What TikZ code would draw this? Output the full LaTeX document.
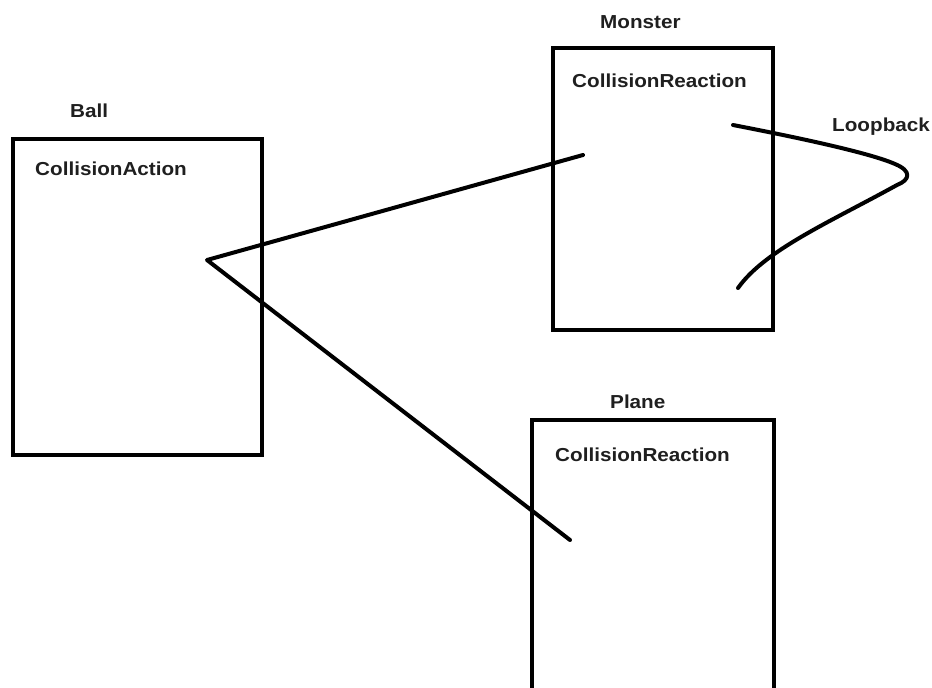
\documentclass[tikz,border=0pt]{standalone}
\usepackage{fontspec}
\setmainfont{Liberation Sans}
\newfontfamily\lblfont[FakeStretch=1.1]{Liberation Sans}
\begin{document}
\begin{tikzpicture}[x=1pt,y=-1pt,
  box/.style={draw, line width=4pt, rectangle, inner sep=0pt, outer sep=0pt, anchor=north west},
  lbl/.style={font=\lblfont\fontsize{18.8}{20}\selectfont\bfseries, text=black!88, anchor=base west, inner sep=0pt},
  wire/.style={line width=4pt, line cap=round, line join=round}]
\path[use as bounding box, clip] (0,0) rectangle (932,688);
\fill[white] (0,0) rectangle (932,688);

% boxes
\node[box, minimum width=249pt, minimum height=316pt] (ball) at (13,139) {};
\node[box, minimum width=220pt, minimum height=282pt] (monster) at (553,48) {};
\node[box, minimum width=242pt, minimum height=300pt] (plane) at (532,420) {};

% labels
\node[lbl] (balllbl) at (70,117) {Ball};
\node[lbl] (ballact) at (35,175) {CollisionAction};
\node[lbl] (monlbl) at (600,28) {Monster};
\node[lbl] (monreact) at (572,87) {CollisionReaction};
\node[lbl] (loop) at (832,131) {Loopback};
\node[lbl] (planelbl) at (610,408) {Plane};
\node[lbl] (planereact) at (555,461) {CollisionReaction};

% connector points
\coordinate (vertex) at (207,260);
\coordinate (monin) at (583,155);
\coordinate (planein) at (570,540);
\coordinate (loopstart) at (733,125);
\coordinate (looptip) at (897,185);
\coordinate (loopend) at (738,288);

\draw[wire] (monin) -- (vertex) -- (planein);
\draw[wire] (loopstart) .. controls (800,138) and (870,153) .. (895,164)
  .. controls (912,171) and (910,180) .. (looptip)
  .. controls (830,222) and (765,250) .. (loopend);
\end{tikzpicture}
\end{document}
